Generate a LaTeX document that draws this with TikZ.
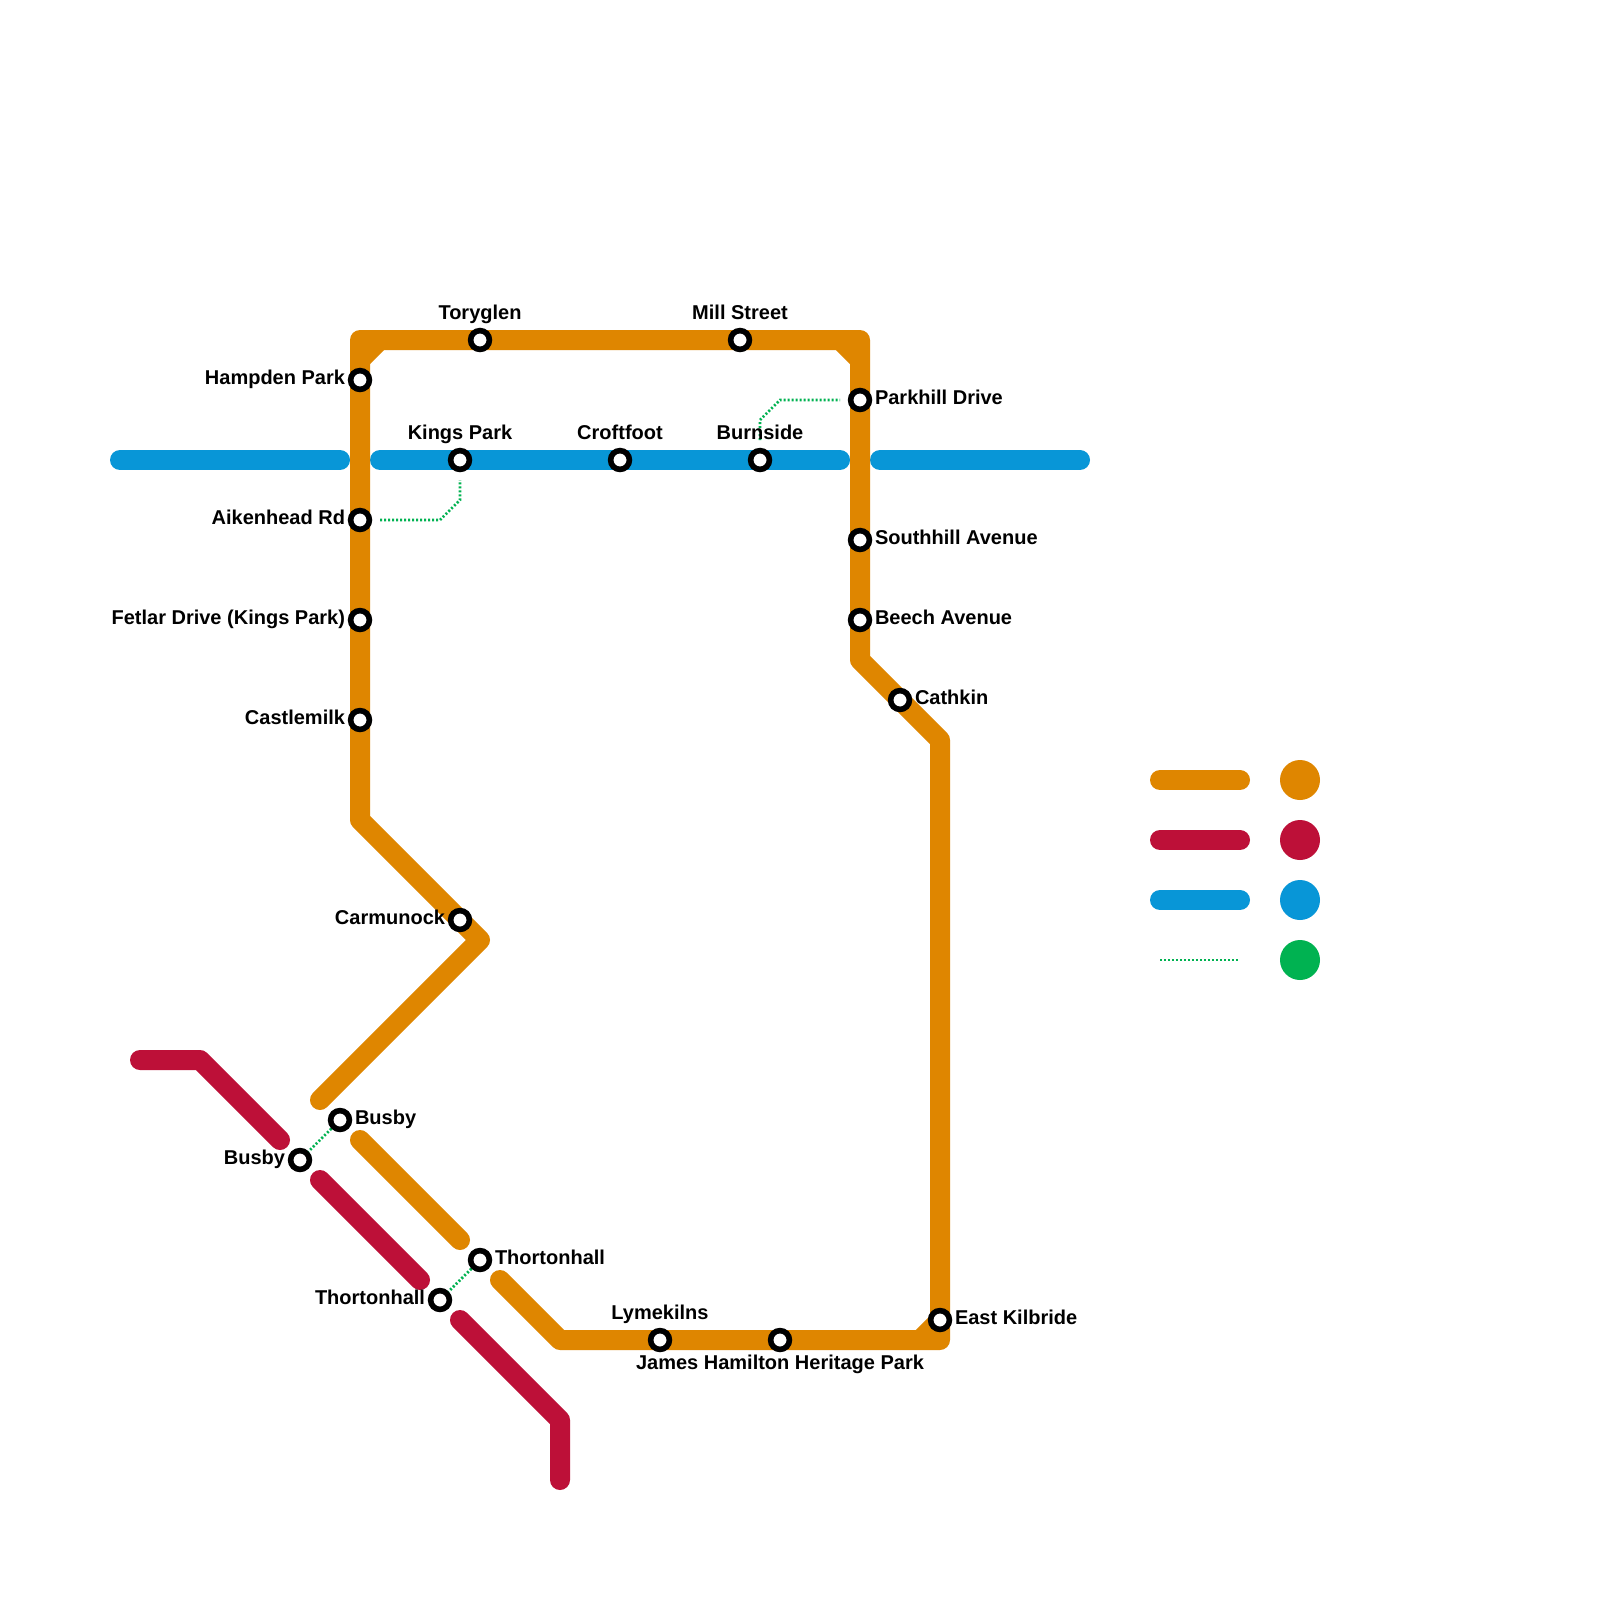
\documentclass[tikz,border=0pt]{standalone}
\usepackage{fontspec}
\setmainfont{Liberation Sans}
\definecolor{lorange}{HTML}{DF8600}
\definecolor{lred}{HTML}{BD1038}
\definecolor{lblue}{HTML}{0896D7}
\definecolor{lgreen}{HTML}{00B251}
\tikzset{
  metro/.style={line width=10pt,line cap=round,line join=round},
  orangeline/.style={metro,draw=lorange},
  redline/.style={metro,draw=lred},
  blueline/.style={metro,draw=lblue},
  chamfer/.style={line width=10pt,draw=lorange,line cap=butt},
  transfer/.style={draw=lgreen,line width=1.4pt,dash pattern=on 1pt off 1pt},
  stn/.style={circle,draw=black,fill=white,line width=2.8pt,minimum size=9.4pt,inner sep=0pt},
  lab/.style={font=\bfseries\fontsize{10}{12}\selectfont,text=black,inner sep=0pt,outer sep=0pt,yshift=0.2pt},
  labR/.style={lab,anchor=base west},
  labL/.style={lab,anchor=base east},
  labC/.style={lab,anchor=base},
  swatch/.style={circle,inner sep=0pt,minimum size=20pt},
}
\begin{document}
\begin{tikzpicture}[x=0.5pt,y=-0.5pt]
\fill[white] (0,0) rectangle (1600,1600);
\useasboundingbox (0,0) rectangle (1600,1600);
% vertices
\foreach \n/\x/\y in {
  oa/360/820,ob/360/340,oc/860/340,od/860/660,oe/940/740,of/940/1340,og/560/1340,oh/500/1280,
  oi/480/940,oj/320/1100,ok/360/1140,ol/460/1240,
  cha/360/360,chb/380/340,chc/840/340,chd/860/360,che/920/1340,chf/940/1320,
  ra/140/1060,rb/200/1060,rc/280/1140,rd/320/1180,re/420/1280,rf/460/1320,rg/560/1420,rh/560/1480,
  ba/120/460,bb/340/460,bc/380/460,bd/840/460,be/880/460,bf/1080/460,
  ga/460/480,gb/460/500,gc/440/520,gd/380/520,
  ge/840/400,gf/780/400,gg/760/420,gh/760/440,
  kao/1160/780,kbo/1240/780,kar/1160/840,kbr/1240/840,kab/1160/900,kbb/1240/900,kag/1160/960,kbg/1240/960}
  {\coordinate (\n) at (\x,\y);}
% lines
\draw[blueline] (ba) -- (bb);
\draw[blueline] (bc) -- (bd);
\draw[blueline] (be) -- (bf);
\draw[orangeline] (oj) -- (oi) -- (oa) -- (ob) -- (oc) -- (od) -- (oe) -- (of) -- (og) -- (oh);
\draw[orangeline] (ok) -- (ol);
\draw[chamfer] (cha) -- (chb);
\draw[chamfer] (chc) -- (chd);
\draw[chamfer] (che) -- (chf);
\draw[redline] (ra) -- (rb) -- (rc);
\draw[redline] (rd) -- (re);
\draw[redline] (rf) -- (rg) -- (rh);
\draw[transfer] (gd) -- (gc) -- (gb) -- (ga);
\draw[transfer] (gh) -- (gg) -- (gf) -- (ge);
% stations
\node[stn] (toryglen) at (480,340) {};
\node[stn] (mill) at (740,340) {};
\node[stn] (hampden) at (360,380) {};
\node[stn] (parkhill) at (860,400) {};
\node[stn] (kings) at (460,460) {};
\node[stn] (croftfoot) at (620,460) {};
\node[stn] (burnside) at (760,460) {};
\node[stn] (aikenhead) at (360,520) {};
\node[stn] (southhill) at (860,540) {};
\node[stn] (fetlar) at (360,620) {};
\node[stn] (beech) at (860,620) {};
\node[stn] (castlemilk) at (360,720) {};
\node[stn] (cathkin) at (900,700) {};
\node[stn] (carmunock) at (460,920) {};
\node[stn] (busbyr) at (340,1120) {};
\node[stn] (busbyl) at (300,1160) {};
\node[stn] (thornr) at (480,1260) {};
\node[stn] (thornl) at (440,1300) {};
\node[stn] (lymekilns) at (660,1340) {};
\node[stn] (james) at (780,1340) {};
\node[stn] (kilbride) at (940,1320) {};
\draw[transfer] (busbyr) -- (busbyl);
\draw[transfer] (thornr) -- (thornl);
% labels
\node[labC] (t1) at (480,320) {Toryglen};
\node[labC] (t2) at (740,320) {Mill Street};
\node[labL] (t3) at (345,385) {Hampden Park};
\node[labR] (t4) at (875,405) {Parkhill Drive};
\node[labC] (t5) at (460,440) {Kings Park};
\node[labC] (t6) at (620,440) {Croftfoot};
\node[labC] (t7) at (760,440) {Burnside};
\node[labL] (t8) at (345,525) {Aikenhead Rd};
\node[labR] (t9) at (875,545) {Southhill Avenue};
\node[labL] (t10) at (345,625) {Fetlar Drive (Kings Park)};
\node[labR] (t11) at (875,625) {Beech Avenue};
\node[labL] (t12) at (345,725) {Castlemilk};
\node[labR] (t13) at (915,705) {Cathkin};
\node[labL] (t14) at (445,925) {Carmunock};
\node[labR] (t15) at (355,1125) {Busby};
\node[labL] (t16) at (285,1165) {Busby};
\node[labR] (t17) at (495,1265) {Thortonhall};
\node[labL] (t18) at (425,1305) {Thortonhall};
\node[labC] (t19) at (660,1320) {Lymekilns};
\node[labC] (t20) at (780,1370) {James Hamilton Heritage Park};
\node[labR] (t21) at (955,1325) {East Kilbride};
% key
\draw[orangeline] (kao) -- (kbo);
\draw[redline] (kar) -- (kbr);
\draw[blueline] (kab) -- (kbb);
\draw[transfer] (kag) -- (kbg);
\node[swatch,fill=lorange] (so) at (1300,780) {};
\node[swatch,fill=lred] (sr) at (1300,840) {};
\node[swatch,fill=lblue] (sb) at (1300,900) {};
\node[swatch,fill=lgreen] (sg) at (1300,960) {};
\end{tikzpicture}
\end{document}
